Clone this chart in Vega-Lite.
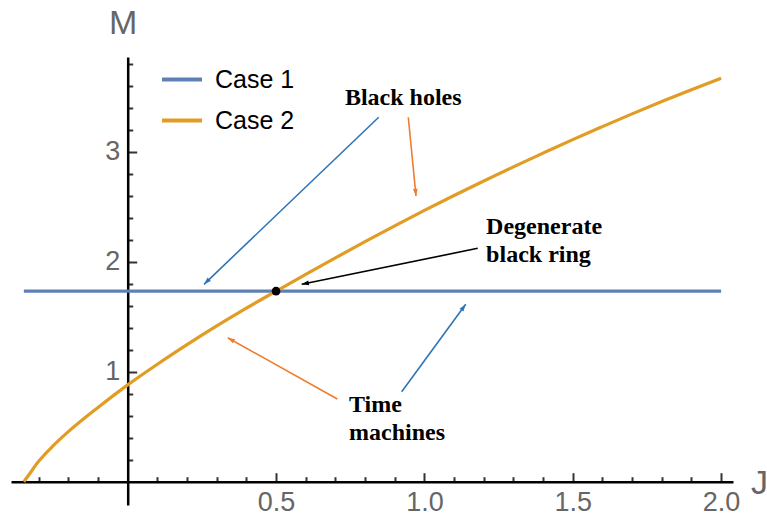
{
  "$schema": "https://vega.github.io/schema/vega-lite/v6.json",
  "width": 722,
  "height": 448,
  "autosize": {"type": "none"},
  "padding": {"left": 11, "top": 57, "right": 34, "bottom": 14},
  "background": "white",
  "config": {
    "view": {"stroke": null},
    "axis": {
      "grid": false,
      "domainColor": "black",
      "domainWidth": 2.5,
      "tickColor": "#333333",
      "tickWidth": 2,
      "labelFont": "Liberation Sans",
      "labelFontSize": 27,
      "labelColor": "#666666",
      "titleFont": "Liberation Sans",
      "titleFontSize": 34,
      "titleFontWeight": "normal",
      "titleColor": "#666666"
    }
  },
  "datasets": {
    "curves": [
      {"series": "Case 1", "J": -0.35, "M": 1.732},
      {"series": "Case 1", "J": 2.0, "M": 1.732},
      {"series": "Case 2", "J": -0.35, "M": 0.0},
      {"series": "Case 2", "J": -0.33, "M": 0.075},
      {"series": "Case 2", "J": -0.3, "M": 0.185},
      {"series": "Case 2", "J": -0.25, "M": 0.33},
      {"series": "Case 2", "J": -0.2, "M": 0.455},
      {"series": "Case 2", "J": -0.1, "M": 0.675},
      {"series": "Case 2", "J": 0.0, "M": 0.88},
      {"series": "Case 2", "J": 0.1, "M": 1.068},
      {"series": "Case 2", "J": 0.2, "M": 1.246},
      {"series": "Case 2", "J": 0.3, "M": 1.416},
      {"series": "Case 2", "J": 0.4, "M": 1.578},
      {"series": "Case 2", "J": 0.5, "M": 1.732},
      {"series": "Case 2", "J": 0.6, "M": 1.885},
      {"series": "Case 2", "J": 0.7, "M": 2.035},
      {"series": "Case 2", "J": 0.8, "M": 2.182},
      {"series": "Case 2", "J": 0.9, "M": 2.326},
      {"series": "Case 2", "J": 1.0, "M": 2.466},
      {"series": "Case 2", "J": 1.1, "M": 2.602},
      {"series": "Case 2", "J": 1.2, "M": 2.734},
      {"series": "Case 2", "J": 1.3, "M": 2.862},
      {"series": "Case 2", "J": 1.4, "M": 2.987},
      {"series": "Case 2", "J": 1.5, "M": 3.11},
      {"series": "Case 2", "J": 1.6, "M": 3.228},
      {"series": "Case 2", "J": 1.7, "M": 3.344},
      {"series": "Case 2", "J": 1.8, "M": 3.456},
      {"series": "Case 2", "J": 1.9, "M": 3.563},
      {"series": "Case 2", "J": 2.0, "M": 3.667}
    ],
    "arrows": [
      {"arrow": "bh_blue", "J": 0.2572, "M": 1.7945, "J2": 0.846, "M2": 3.313},
      {"arrow": "bh_orange", "J": 0.9717, "M": 2.597, "J2": 0.9457, "M2": 3.313},
      {"arrow": "ring_black", "J": 0.5865, "M": 1.7945, "J2": 1.1797, "M2": 2.1218},
      {"arrow": "tm_orange", "J": 0.337, "M": 1.309, "J2": 0.7064, "M2": 0.7518},
      {"arrow": "tm_blue", "J": 1.1392, "M": 1.6127, "J2": 0.9235, "M2": 0.8182}
    ],
    "notes": [
      {"text": "Black holes", "J": 0.732, "M": 3.488},
      {"text": "Degenerate", "J": 1.208, "M": 2.318},
      {"text": "black ring", "J": 1.208, "M": 2.061},
      {"text": "Time", "J": 0.746, "M": 0.697},
      {"text": "machines", "J": 0.746, "M": 0.443}
    ],
    "dot": [{"J": 0.5, "M": 1.732}]
  },
  "encoding": {
    "x": {
      "field": "J",
      "type": "quantitative",
      "scale": {"domain": [-0.3933, 2.0401], "nice": false, "zero": false},
      "axis": {
        "orient": "bottom",
        "offset": -23.3,
        "values": [-0.3, -0.2, -0.1, 0.1, 0.2, 0.3, 0.4, 0.5, 0.6, 0.7, 0.8, 0.9, 1.0, 1.1, 1.2, 1.3, 1.4, 1.5, 1.6, 1.7, 1.8, 1.9, 2.0],
        "format": ".1f",
        "labelExpr": "abs(datum.value*2 - round(datum.value*2)) < 0.001 ? datum.label : ''",
        "tickSize": {"condition": {"test": "abs(datum.value*2 - round(datum.value*2)) < 0.001", "value": -9}, "value": -5},
        "labelPadding": 17,
        "labelFlush": false,
        "labelOverlap": false,
        "title": "J",
        "titleAngle": 0,
        "titleAlign": "center",
        "titleBaseline": "middle",
        "titleX": 748,
        "titleY": 2
      }
    },
    "y": {
      "field": "M",
      "type": "quantitative",
      "scale": {"domain": [-0.2118, 3.861], "nice": false, "zero": false},
      "axis": {
        "orient": "left",
        "offset": -116.7,
        "values": [0.2, 0.4, 0.6, 0.8, 1, 1.2, 1.4, 1.6, 1.8, 2, 2.2, 2.4, 2.6, 2.8, 3, 3.2, 3.4, 3.6, 3.8],
        "format": ".0f",
        "labelExpr": "abs(datum.value - round(datum.value)) < 0.001 ? datum.label : ''",
        "tickSize": {"condition": {"test": "abs(datum.value - round(datum.value)) < 0.001", "value": -9}, "value": -5},
        "labelPadding": 17,
        "labelFlush": false,
        "labelOverlap": false,
        "title": "M",
        "titleAngle": 0,
        "titleAlign": "center",
        "titleBaseline": "middle",
        "titleX": -5,
        "titleY": -34
      }
    }
  },
  "layer": [
    {
      "data": {"name": "curves"},
      "mark": {"type": "line", "strokeWidth": 3.2, "interpolate": "monotone"},
      "encoding": {
        "color": {
          "field": "series",
          "type": "nominal",
          "scale": {"domain": ["Case 1", "Case 2"], "range": ["#5E81B5", "#E19C24"]},
          "legend": {
            "orient": "none",
            "legendX": 149,
            "legendY": 0.5,
            "title": null,
            "padding": 0,
            "symbolType": "stroke",
            "symbolSize": 1600,
            "symbolStrokeWidth": 4,
            "labelFont": "Liberation Sans",
            "labelFontSize": 25,
            "labelColor": "black",
            "labelOffset": 11,
            "rowPadding": 6
          }
        }
      }
    },
    {
      "data": {"name": "dot"},
      "mark": {"type": "point", "filled": true, "color": "black", "opacity": 1, "size": 75}
    },
    {
      "data": {"name": "arrows"},
      "transform": [{"filter": "indexof(['bh_blue','tm_blue'], datum.arrow) >= 0"}],
      "mark": {"type": "rule", "color": "#2E75B6", "strokeWidth": 1.6},
      "encoding": {"x2": {"field": "J2"}, "y2": {"field": "M2"}}
    },
    {
      "data": {"name": "arrows"},
      "transform": [{"filter": "indexof(['bh_orange','tm_orange'], datum.arrow) >= 0"}],
      "mark": {"type": "rule", "color": "#ED7D31", "strokeWidth": 1.6},
      "encoding": {"x2": {"field": "J2"}, "y2": {"field": "M2"}}
    },
    {
      "data": {"name": "arrows"},
      "transform": [{"filter": "datum.arrow == 'ring_black'"}],
      "mark": {"type": "rule", "color": "black", "strokeWidth": 1.6},
      "encoding": {"x2": {"field": "J2"}, "y2": {"field": "M2"}}
    },
    {
      "data": {"name": "arrows"},
      "transform": [{"filter": "datum.arrow == 'bh_blue'"}],
      "mark": {"type": "point", "shape": "M0,0L-0.4,1.2L0.4,1.2Z", "filled": true, "opacity": 1, "color": "#2E75B6", "size": 144, "angle": 226.3, "strokeWidth": 0}
    },
    {
      "data": {"name": "arrows"},
      "transform": [{"filter": "datum.arrow == 'bh_orange'"}],
      "mark": {"type": "point", "shape": "M0,0L-0.4,1.2L0.4,1.2Z", "filled": true, "opacity": 1, "color": "#ED7D31", "size": 144, "angle": 174.4, "strokeWidth": 0}
    },
    {
      "data": {"name": "arrows"},
      "transform": [{"filter": "datum.arrow == 'ring_black'"}],
      "mark": {"type": "point", "shape": "M0,0L-0.4,1.2L0.4,1.2Z", "filled": true, "opacity": 1, "color": "black", "size": 144, "angle": 258.4, "strokeWidth": 0}
    },
    {
      "data": {"name": "arrows"},
      "transform": [{"filter": "datum.arrow == 'tm_orange'"}],
      "mark": {"type": "point", "shape": "M0,0L-0.4,1.2L0.4,1.2Z", "filled": true, "opacity": 1, "color": "#ED7D31", "size": 144, "angle": 299.2, "strokeWidth": 0}
    },
    {
      "data": {"name": "arrows"},
      "transform": [{"filter": "datum.arrow == 'tm_blue'"}],
      "mark": {"type": "point", "shape": "M0,0L-0.4,1.2L0.4,1.2Z", "filled": true, "opacity": 1, "color": "#2E75B6", "size": 144, "angle": 36.2, "strokeWidth": 0}
    },
    {
      "data": {"name": "notes"},
      "mark": {"type": "text", "align": "left", "baseline": "middle", "font": "Liberation Serif", "fontWeight": "bold", "fontSize": 24, "color": "black"},
      "encoding": {"text": {"field": "text"}}
    }
  ]
}
